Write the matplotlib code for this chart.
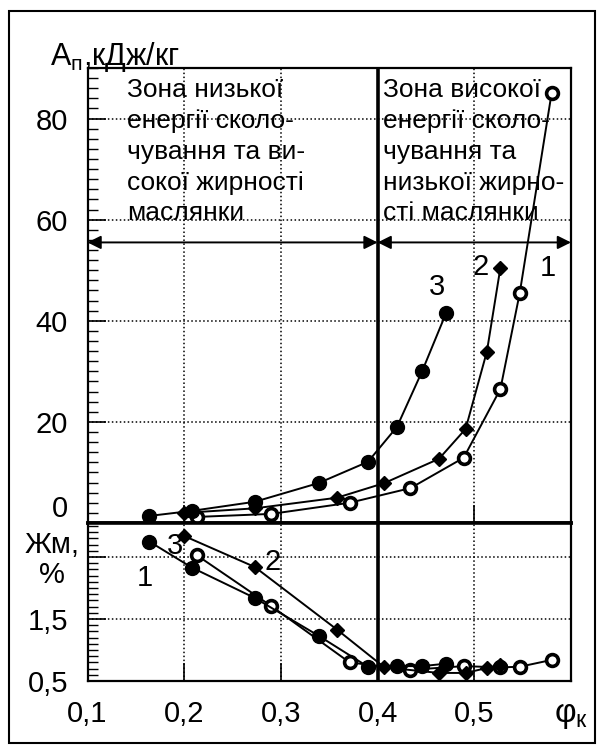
import matplotlib
matplotlib.use("Agg")
import matplotlib.pyplot as plt
from matplotlib.patches import Rectangle
from matplotlib.ticker import MultipleLocator

plt.rcParams['font.family'] = ['Liberation Sans', 'DejaVu Sans']
plt.rcParams['mathtext.fontset'] = 'custom'
plt.rcParams['mathtext.rm'] = 'Liberation Sans'

# коефіцієнт φк для кожної кривої (спільний для обох графіків)
phi_1 = [0.213, 0.290, 0.371, 0.434, 0.489, 0.527, 0.547, 0.580]
phi_2 = [0.200, 0.273, 0.358, 0.407, 0.4635, 0.491, 0.513, 0.527]
phi_3 = [0.164, 0.208, 0.273, 0.339, 0.390, 0.420, 0.446, 0.471]

# питома робота Aп, кДж/кг
a_1 = [1.2, 1.8, 4.0, 6.9, 12.9, 26.5, 45.5, 85.1]
a_2 = [2.0, 2.9, 5.0, 7.9, 12.7, 18.6, 33.9, 50.5]
a_3 = [1.4, 2.4, 4.2, 7.9, 12.1, 19.0, 30.0, 41.6]

# жирність маслянки Жм, %
zh_1 = [2.53, 1.71, 0.80, 0.68, 0.74, 0.72, 0.73, 0.84]
zh_2 = [2.84, 2.34, 1.33, 0.72, 0.63, 0.63, 0.71, 0.76]
zh_3 = [2.75, 2.33, 1.84, 1.23, 0.73, 0.74, 0.74, 0.78]

x_ticks = [0.1, 0.2, 0.3, 0.4, 0.5, 0.6]
x_labels = ['0,1', '0,2', '0,3', '0,4', '0,5', r'$\mathregular{φ_к}$']
a_ticks = [0, 20, 40, 60, 80]
zh_ticks = [0.5, 1.5, 2.5]
zh_labels = ['0,5', '1,5', '']

zone_low = "Зона низької\nенергії сколо-\nчування та ви-\nсокої жирності\nмаслянки"
zone_high = "Зона високої\nенергії сколо-\nчування та\nнизької жирно-\nсті маслянки"

W, H = 603, 751
fig = plt.figure(figsize=(W / 100, H / 100), dpi=100)

def box(x0, y0, x1, y1):
    return [x0 / W, 1 - y1 / H, (x1 - x0) / W, (y1 - y0) / H]

ax = fig.add_axes(box(87.5, 68, 571, 523))
bx = fig.add_axes(box(87.5, 523, 571, 681))

fig.add_artist(Rectangle((9 / W, 1 - 743 / H), 586 / W, 732 / H,
                         transform=fig.transFigure, fill=False, lw=1.5, color='k'))

line_kw = dict(color='k', lw=1.4, zorder=3)
open_kw = dict(marker='o', ms=8.5, mfc='white', mec='k', mew=2.6)
fill_kw = dict(marker='o', ms=10, mfc='k', mec='k')
diam_kw = dict(marker='D', ms=7.5, mfc='k', mec='k')

for a in (ax, bx):
    a.set_xlim(0.1, 0.6)
    a.set_xticks(x_ticks)
    a.grid(True, which='major', color='k', ls=(0, (1, 1.6)), lw=1.1)
    a.axvline(0.4, color='k', lw=2.6, zorder=4)
    a.tick_params(axis='both', which='major', direction='in', length=13,
                  width=1.2, labelsize=21, pad=14, right=False, top=False)
    a.tick_params(axis='y', which='minor', direction='in', length=7, width=1.0)
    for s in a.spines.values():
        s.set_linewidth(1.6)

ax.spines['bottom'].set_linewidth(2.6)
bx.spines['top'].set_linewidth(2.6)

# верхній графік: Aп(φк)
ax.plot(phi_1, a_1, **line_kw, **open_kw)
ax.plot(phi_2, a_2, **line_kw, **diam_kw)
ax.plot(phi_3, a_3, **line_kw, **fill_kw)
ax.set_ylim(0, 90)
ax.set_yticks(a_ticks)
ax.yaxis.set_minor_locator(MultipleLocator(2))
ax.set_yticklabels([str(v) for v in a_ticks])
ax.get_yticklabels()[0].set_va('bottom')
ax.tick_params(axis='x', labelbottom=False)

ax.annotate('', xy=(0.1, 55.5), xytext=(0.4, 55.5),
            arrowprops=dict(arrowstyle='<|-|>', color='k', lw=1.4,
                            mutation_scale=20, shrinkA=0, shrinkB=0))
ax.annotate('', xy=(0.4, 55.5), xytext=(0.6, 55.5),
            arrowprops=dict(arrowstyle='<|-|>', color='k', lw=1.4,
                            mutation_scale=20, shrinkA=0, shrinkB=0))

ax.text(0.1408, 88.0, zone_low, fontsize=19, va='top', ha='left', linespacing=1.36)
ax.text(0.4056, 88.0, zone_high, fontsize=19, va='top', ha='left', linespacing=1.36)

ax.text(0.4614, 46.7, '3', fontsize=21, ha='center', va='center')
ax.text(0.507, 50.6, '2', fontsize=21, ha='center', va='center')
ax.text(0.576, 50.4, '1', fontsize=21, ha='center', va='center')

# нижній графік: Жм(φк)
bx.plot(phi_1, zh_1, **line_kw, **open_kw)
bx.plot(phi_2, zh_2, **line_kw, **diam_kw)
bx.plot(phi_3, zh_3, **line_kw, **fill_kw)
bx.set_ylim(0.5, 3.05)
bx.set_yticks(zh_ticks)
bx.set_yticklabels(zh_labels)
bx.yaxis.set_minor_locator(MultipleLocator(0.1))
bx.set_xticklabels(x_labels)
bx.get_xticklabels()[-1].set_fontsize(24)

bx.text(0.1595, 2.16, '1', fontsize=21, ha='center', va='center')
bx.text(0.190, 2.68, '3', fontsize=21, ha='center', va='center')
bx.text(0.291, 2.42, '2', fontsize=21, ha='center', va='center')

fig.text(50 / W, 1 - 57 / H, r'$\mathregular{A_п}$,кДж/кг', fontsize=22,
         ha='left', va='center')
fig.text(52 / W, 1 - 560 / H, 'Жм,\n%', fontsize=21, ha='center', va='center',
         linespacing=1.1)

fig.savefig('out.png', dpi=100)
